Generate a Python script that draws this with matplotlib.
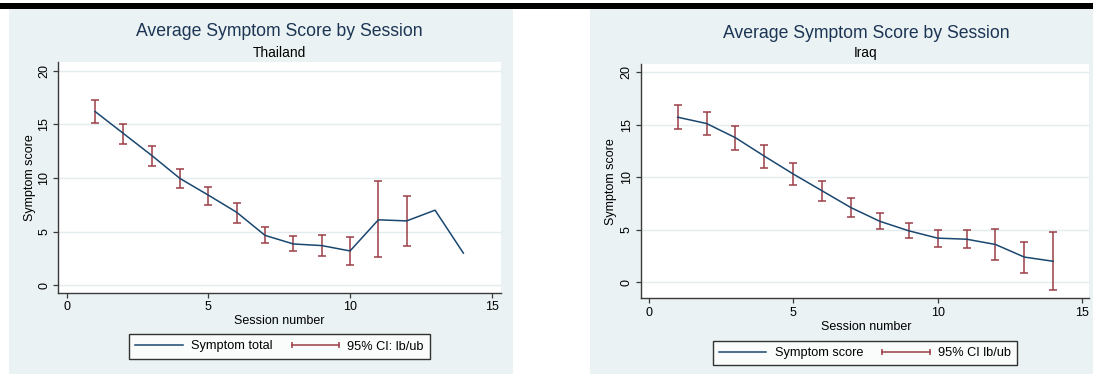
import numpy as np
import matplotlib
matplotlib.use("Agg")
import matplotlib.pyplot as plt
from matplotlib.lines import Line2D
from matplotlib.patches import Rectangle
from matplotlib.legend_handler import HandlerLine2D

plt.rcParams['font.family'] = ['Liberation Sans', 'DejaVu Sans']

W, H = 1093, 374

# ------------data------------
sessions = np.arange(1, 15)

thai_mean = [16.2, 14.15, 12.1, 9.95, 8.4, 6.8, 4.65, 3.85, 3.7, 3.2, 6.1, 6.0, 7.0, 3.0]
thai_lb = [15.1, 13.15, 11.1, 9.05, 7.45, 5.8, 3.9, 3.2, 2.75, 1.85, 2.6, 3.65, np.nan, np.nan]
thai_ub = [17.25, 15.05, 13.0, 10.85, 9.2, 7.7, 5.45, 4.55, 4.65, 4.5, 9.7, 8.3, np.nan, np.nan]

iraq_mean = [15.7, 15.1, 13.75, 12.0, 10.3, 8.7, 7.1, 5.8, 4.9, 4.2, 4.1, 3.6, 2.4, 2.0]
iraq_lb = [14.55, 14.0, 12.55, 10.9, 9.25, 7.75, 6.2, 5.1, 4.2, 3.4, 3.25, 2.1, 0.85, -0.75]
iraq_ub = [16.85, 16.2, 14.9, 13.1, 11.3, 9.65, 8.0, 6.55, 5.6, 5.0, 4.95, 5.1, 3.85, 4.75]

x_ticks = [0, 5, 10, 15]
y_ticks = [0, 5, 10, 15, 20]

NAVY = '#1A476F'
MAROON = '#9A3E46'
BG = '#EAF2F3'
TITLE_C = '#1C3554'


def px_box(x0, y0, x1, y1):
    """pixel box (top-left origin) -> figure fraction [l, b, w, h]"""
    return [x0 / W, 1 - y1 / H, (x1 - x0) / W, (y1 - y0) / H]


def draw_panel(fig, mean, lb, ub, subtitle, line_label, ci_label, lay):
    # graph region background
    fig.patches.append(Rectangle((lay['bg'][0] / W, 1 - lay['bg'][3] / H),
                                 (lay['bg'][2] - lay['bg'][0]) / W,
                                 (lay['bg'][3] - lay['bg'][1]) / H,
                                 transform=fig.transFigure, facecolor=BG,
                                 edgecolor='none', zorder=-5))
    ax = fig.add_axes(px_box(*lay['ax']))
    ax.set_zorder(3)
    ax.set_facecolor('white')

    ax.plot(sessions, mean, color=NAVY, lw=1.1, zorder=3)
    mean = np.array(mean)
    lo = mean - np.array(lb)
    hi = np.array(ub) - mean
    ax.errorbar(sessions, mean, yerr=[lo, hi], fmt='none', ecolor=MAROON,
                elinewidth=1.1, capsize=2.6, capthick=1.1, zorder=2)

    ax.set_xlim(*lay['xlim'])
    ax.set_ylim(*lay['ylim'])
    ax.set_xticks(x_ticks)
    ax.set_yticks(y_ticks)
    ax.grid(axis='y', color='#E3ECEE', lw=1.0)
    ax.set_axisbelow(True)
    for s in ['top', 'right']:
        ax.spines[s].set_visible(False)
    for s in ['left', 'bottom']:
        ax.spines[s].set_color('#3A3A3A')
        ax.spines[s].set_linewidth(1.0)
    ax.tick_params(direction='out', length=3.5, width=0.9, color='#3A3A3A',
                   labelsize=9, pad=2.5)
    plt.setp(ax.get_yticklabels(), rotation=90, va='center')

    cx = lay['cx']
    fig.text(cx / W, 1 - lay['t_y'] / H, 'Average Symptom Score by Session',
             ha='center', va='center', fontsize=12.7, color=TITLE_C)
    fig.text(cx / W, 1 - lay['s_y'] / H, subtitle,
             ha='center', va='center', fontsize=9.9, color='black')
    fig.text(cx / W, 1 - lay['xl_y'] / H, 'Session number',
             ha='center', va='center', fontsize=9, color='black')
    fig.text(lay['yl_x'] / W, 1 - lay['yl_y'] / H, 'Symptom score', rotation=90,
             ha='center', va='center', fontsize=9, color='black')

    # legend
    h_line = Line2D([], [], color=NAVY, lw=1.1)
    h_ci = Line2D([], [], color=MAROON, lw=1.1, marker='|', markersize=5,
                  markeredgewidth=1.1)
    leg = fig.legend([h_line, h_ci], [line_label, ci_label], ncol=2,
                     loc='center', bbox_to_anchor=(lay['leg'][0] / W, 1 - lay['leg'][1] / H),
                     fontsize=9.2, frameon=True, fancybox=False, edgecolor='black',
                     handlelength=3.7, handletextpad=0.65, columnspacing=1.5,
                     borderpad=0.5, handler_map={h_ci: HandlerLine2D(numpoints=2, marker_pad=0)})
    leg.get_frame().set_linewidth(1.0)
    leg.get_frame().set_facecolor('white')
    return ax


fig = plt.figure(figsize=(W / 100, H / 100), dpi=100)

# black bar across the top
fig.patches.append(Rectangle((0, 1 - 9 / H), 1, 6 / H, transform=fig.transFigure,
                             facecolor='black', edgecolor='none', zorder=-5))

left = dict(bg=(8.7, 9, 512.7, 374), ax=(58.4, 62, 500.5, 293),
            xlim=(-0.293, 15.31), ylim=(-0.72, 20.81),
            cx=279, t_y=32, s_y=53, xl_y=321, yl_x=29.5, yl_y=178, leg=(279.5, 346.5))
right = dict(bg=(589.7, 9, 1100, 374), ax=(641, 64, 1089, 298.3),
             xlim=(-0.27, 15.24), ylim=(-1.52, 20.76),
             cx=866, t_y=33, s_y=53, xl_y=327, yl_x=611.4, yl_y=182, leg=(865, 353))

draw_panel(fig, thai_mean, thai_lb, thai_ub, 'Thailand', 'Symptom total', '95% CI: lb/ub', left)
draw_panel(fig, iraq_mean, iraq_lb, iraq_ub, 'Iraq', 'Symptom score', '95% CI lb/ub', right)

plt.savefig('out.png', dpi=100)
